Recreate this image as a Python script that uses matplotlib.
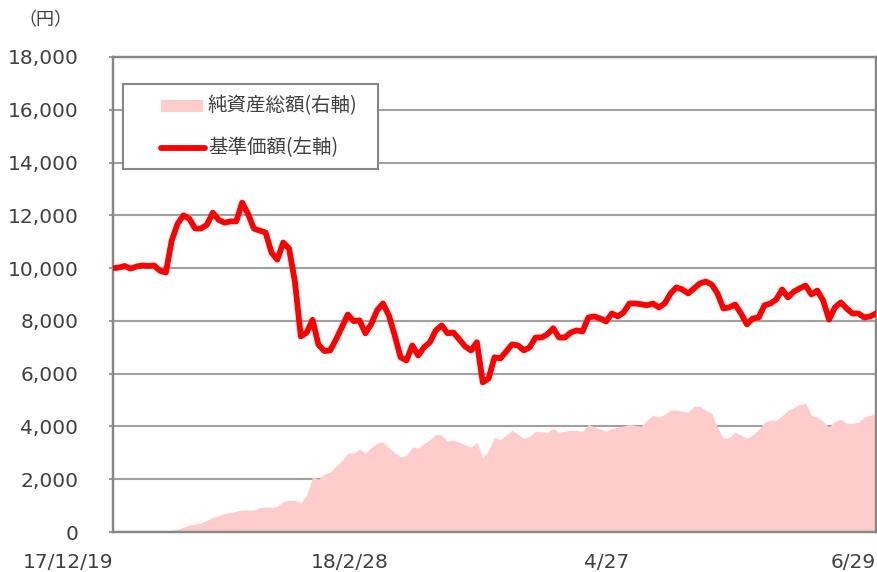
import matplotlib
matplotlib.use("Agg")
import matplotlib.pyplot as plt
from matplotlib.patches import Rectangle
from matplotlib.lines import Line2D

plt.rcParams['font.family'] = ['DejaVu Sans', 'Noto Sans CJK JP']

# ---- data ----
tick_labels = ["17/12/19", "18/2/28", "4/27", "6/29"]
tick_index = [0, 47, 88, 130]

nav = [10000, 10020, 10080, 9980, 10060, 10100, 10080, 10100, 9900, 9830,
       11040, 11680, 12000, 11870, 11500, 11500, 11640, 12100, 11830, 11720,
       11770, 11770, 12480, 12060, 11500, 11420, 11350, 10590, 10320, 10970,
       10740, 9480, 7410, 7560, 8040, 7100, 6860, 6880, 7300, 7760,
       8240, 7990, 8020, 7530, 7880, 8400, 8660, 8210, 7450, 6620,
       6500, 7070, 6690, 7000, 7190, 7640, 7830, 7530, 7560, 7300,
       7030, 6880, 7190, 5670, 5820, 6620, 6580, 6840, 7110, 7070,
       6880, 7000, 7370, 7370, 7490, 7720, 7370, 7370, 7560, 7640,
       7600, 8130, 8170, 8090, 7980, 8280, 8170, 8320, 8660, 8660,
       8630, 8590, 8660, 8510, 8660, 9040, 9270, 9190, 9040, 9230,
       9420, 9490, 9380, 9040, 8470, 8510, 8620, 8280, 7870, 8090,
       8130, 8590, 8660, 8810, 9190, 8890, 9110, 9230, 9340, 9000,
       9150, 8770, 8050, 8510, 8700, 8470, 8280, 8280, 8130, 8170,
       8280]

net_assets = [0, 0, 0, 0, 0, 0, 0, 0, 20, 40,
              60, 100, 180, 260, 300, 340, 450, 550, 620, 700,
              740, 790, 830, 830, 830, 920, 950, 930, 980, 1150,
              1210, 1210, 1100, 1400, 2080, 2000, 2190, 2270, 2500, 2700,
              2990, 2990, 3140, 2990, 3200, 3370, 3400, 3200, 3000, 2840,
              2910, 3220, 3180, 3350, 3500, 3710, 3670, 3440, 3480, 3400,
              3300, 3220, 3400, 2800, 3100, 3590, 3500, 3680, 3860, 3700,
              3550, 3630, 3820, 3800, 3780, 3930, 3780, 3820, 3860, 3840,
              3820, 4080, 3990, 3900, 3820, 3930, 3970, 4020, 4080, 4040,
              4010, 4240, 4420, 4350, 4460, 4620, 4620, 4580, 4540, 4770,
              4770, 4610, 4500, 3970, 3550, 3590, 3780, 3670, 3550, 3680,
              3880, 4160, 4240, 4240, 4400, 4610, 4720, 4840, 4880, 4420,
              4350, 4200, 3970, 4200, 4270, 4120, 4120, 4160, 4350, 4420,
              4500]

y_ticks = list(range(0, 18001, 2000))
legend_labels = ["純資産総額(右軸)", "基準価額(左軸)"]
unit_label = "（円）"

# ---- figure ----
W, H = 877, 572
fig = plt.figure(figsize=(W / 100, H / 100), dpi=100)

def fx(px):
    return px / W

def fy(py):
    return 1 - py / H

left, right, top, bottom = 113, 876, 57, 532
ax2 = fig.add_axes([fx(left), fy(bottom), fx(right) - fx(left), fy(top) - fy(bottom)])
ax = ax2.twinx()
ax.set_zorder(ax2.get_zorder() + 1)
ax.patch.set_visible(False)

x = list(range(len(nav)))
grid_c = "#A0A0A0"
spine_c = "#878787"
text_c = "#404040"

# area (right axis) with grid underneath
ax2.fill_between(x, 0, net_assets, color="#FFCCCC", lw=0, zorder=2)
ax2.set_ylim(0, 18000)
ax2.set_yticks(y_ticks)
ax2.yaxis.grid(True, color=grid_c, lw=1.5, zorder=0)
ax2.set_axisbelow(True)
ax2.tick_params(axis='y', left=False, labelleft=False)

# NAV line (left axis)
ax.plot(x, nav, color="#FF0000", lw=4.2, solid_joinstyle='round', zorder=3)
ax.set_ylim(0, 18000)
ax.set_xlim(0, len(nav) - 1)
ax2.set_xlim(0, len(nav) - 1)
ax.yaxis.set_label_position('left')
ax.yaxis.tick_left()
ax.set_yticks(y_ticks)
ax.set_yticklabels([f"{v:,}" for v in y_ticks])
ax.tick_params(axis='y', direction='out', length=3, width=1.2, color=spine_c,
               labelsize=14.5, labelcolor=text_c, pad=22)

ax2.set_xticks(tick_index)
ax2.set_xticklabels(tick_labels, ha='right')
ax2.tick_params(axis='x', direction='in', length=6.5, width=1.2, color=spine_c,
                labelsize=14.5, labelcolor=text_c, pad=15)
ax.tick_params(axis='x', bottom=False, labelbottom=False)

for a in (ax, ax2):
    for s in a.spines.values():
        s.set_color(spine_c)
        s.set_linewidth(1.6)

fig.text(fx(45), fy(20), unit_label, ha='center', va='center', fontsize=13,
         color=text_c, family=['Noto Sans CJK JP', 'DejaVu Sans'])

# ---- legend box ----
fig.add_artist(Rectangle((fx(123), fy(169)), fx(378) - fx(123), fy(84) - fy(169),
                         transform=fig.transFigure, facecolor='white',
                         edgecolor=spine_c, lw=1.5, zorder=5))
fig.add_artist(Rectangle((fx(161), fy(112)), fx(203) - fx(161), fy(100) - fy(112),
                         transform=fig.transFigure, facecolor="#FFCCCC",
                         edgecolor='none', zorder=6))
fig.add_artist(Line2D([fx(161), fx(205)], [fy(148), fy(148)], transform=fig.transFigure,
                      color="#FF0000", lw=4.2, solid_capstyle='round', zorder=6))
for lab, yy in zip(legend_labels, (106, 148)):
    fig.text(fx(208), fy(yy), lab, ha='left', va='center', fontsize=14,
             color=text_c, family=['Noto Sans CJK JP', 'DejaVu Sans'], zorder=7)

fig.savefig("out.png", dpi=100)
